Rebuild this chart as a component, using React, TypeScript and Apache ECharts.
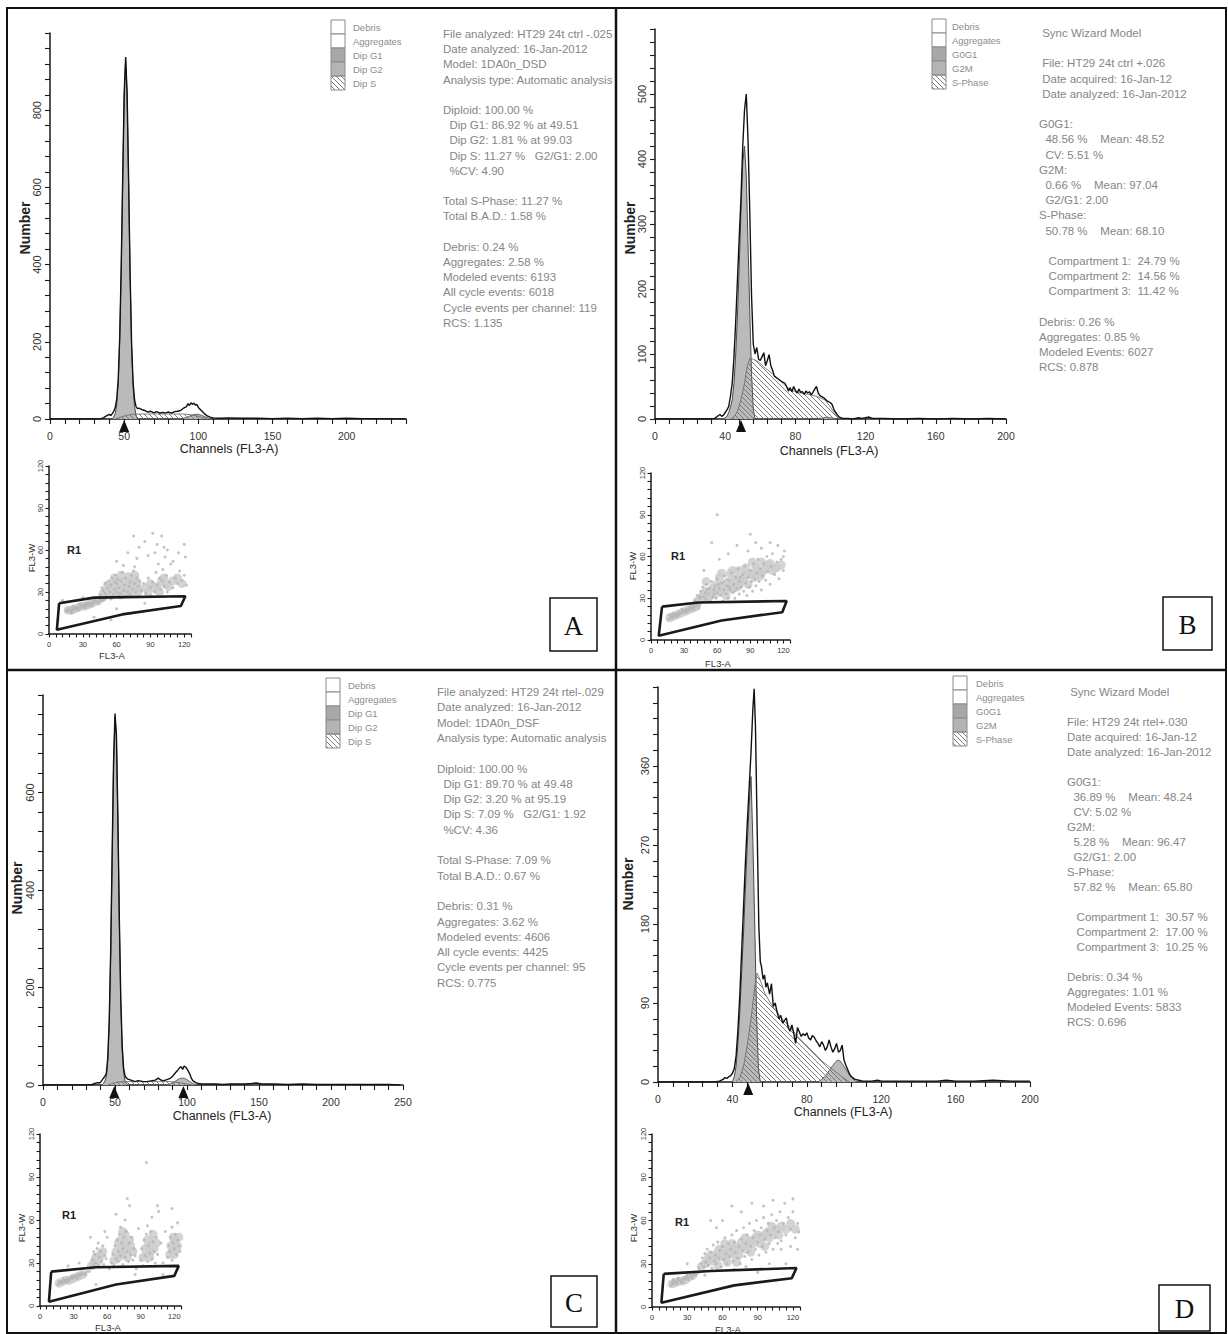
import React, { useEffect, useRef } from 'react';
import * as echarts from 'echarts';

const FONT = '"Liberation Sans", Arial, Helvetica, sans-serif';
const SERIF = '"Liberation Serif", "Times New Roman", serif';

// ---------------- Histogram data (channel, count) ----------------
const aTotal = [[0,0],[30,0],[34,1],[36,3],[38,8],[40,12],[41,9],[42,14],[43,20],[44,30],[45,52],[46,102],[47,212],[48,392],[49,622],[50,842],[51,938],[52,842],[53,618],[54,378],[55,196],[56,96],[57,50],[58,32],[59,27],[60,28],[62,24],[64,22],[66,18],[68,20],[70,16],[72,19],[74,15],[76,17],[78,16],[80,18],[82,15],[84,19],[86,20],[88,22],[90,28],[92,32],[93,40],[94,35],[95,42],[96,38],[97,41],[98,36],[99,38],[100,30],[102,22],[104,14],[106,8],[108,5],[110,3],[115,2],[120,3],[130,2],[140,2],[150,1],[160,2],[170,1],[180,2],[190,1],[200,2],[210,1],[220,1],[240,0]];
const aG1 = [[42,0],[43,5],[44,14],[45,38],[46,95],[47,205],[48,385],[49,615],[50,835],[51,932],[52,835],[53,610],[54,370],[55,185],[56,85],[57,32],[58,10],[59,0]];
const aS = [[44,0],[48,5],[52,10],[56,12],[60,13],[70,13],[80,13],[90,13],[95,11],[100,7],[104,2],[106,0]];
const aG2 = [[88,0],[92,4],[95,9],[98,12],[100,12],[102,10],[105,5],[108,1],[110,0]];
const aArrows = [50];

const bTotal = [[0,0],[30,0],[34,1],[36,5],[37,7],[38,4],[39,6],[40,10],[41,14],[42,19],[43,35],[44,55],[45,95],[46,150],[47,215],[48,280],[49,340],[50,420],[51,475],[52,500],[53,430],[54,320],[55,190],[56,115],[57,100],[58,110],[59,92],[60,90],[61,96],[62,102],[63,82],[64,90],[65,99],[66,82],[67,75],[68,66],[70,62],[72,58],[74,55],[75,50],[76,43],[77,48],[78,42],[79,50],[80,44],[81,40],[82,46],[83,41],[84,42],[85,38],[86,43],[87,40],[88,42],[89,37],[90,41],[91,46],[92,50],[93,40],[94,36],[96,33],[98,28],[100,25],[101,22],[102,14],[103,10],[104,6],[105,3],[107,1],[110,1],[113,0],[116,2],[118,1],[122,3],[124,1],[130,1],[140,0],[150,1],[160,0],[170,1],[180,0],[190,1],[200,0]];
const bG1 = [[39,0],[41,4],[42,10],[43,18],[44,30],[45,55],[46,100],[47,160],[48,235],[49,320],[50,395],[51,420],[52,375],[53,270],[54,165],[55,70],[56,15],[57,0]];
const bS = [[43,0],[45,3],[47,12],[49,30],[51,55],[52.5,80],[54,93],[56,92],[59,88],[62,80],[65,74],[68,67],[71,60],[74,52],[77,45],[81,41],[85,39],[89,37],[93,34],[97,29],[100,18],[102,10],[104,4],[106,0]];
const bG2 = [[92,0],[96,2],[98,3],[100,2],[104,0]];
const bArrows = [49];

const cTotal = [[0,0],[30,0],[34,1],[36,3],[38,5],[39,4],[40,6],[41,10],[42,14],[43,18],[44,24],[45,57],[46,133],[47,273],[48,468],[49,662],[50,762],[51,718],[52,548],[53,343],[54,178],[55,80],[56,34],[57,18],[58,14],[59,12],[60,11],[62,9],[64,7],[66,9],[68,8],[70,7],[72,7],[74,8],[76,9],[78,10],[80,14],[82,10],[84,9],[86,11],[88,13],[90,18],[92,25],[94,32],[95,36],[96,37],[97,32],[98,39],[99,37],[100,33],[101,28],[102,22],[103,14],[104,9],[106,5],[108,3],[110,2],[115,2],[120,2],[125,1],[130,2],[140,2],[145,3],[148,4],[152,2],[160,2],[170,1],[180,2],[190,1],[200,1],[210,1],[220,1],[230,1],[240,1],[248,0]];
const cG1 = [[41,0],[42,3],[43,8],[44,18],[45,50],[46,125],[47,265],[48,460],[49,655],[50,755],[51,710],[52,540],[53,335],[54,170],[55,70],[56,25],[57,8],[58,2],[59,0]];
const cS = [[45,0],[48,3],[52,6],[56,7],[60,7],[70,7],[80,7],[88,7],[92,6],[96,4],[100,2],[104,0]];
const cG2 = [[85,0],[88,2],[90,4],[92,8],[94,12],[96,14],[98,14],[100,11],[102,7],[104,3],[106,1],[108,0]];
const cArrows = [49.5, 97.5];

const dTotal = [[0,0],[30,0],[33,1],[35,3],[36,5],[37,4],[38,6],[39,7],[40,10],[41,15],[42,30],[43,60],[44,100],[45,150],[46,200],[47,250],[48,295],[49,335],[50,375],[51,425],[51.7,448],[52.4,405],[53.3,290],[54.2,178],[55,137],[55.6,132],[56.5,117],[57.3,122],[58,108],[58.8,113],[60,100],[61,112],[62,86],[63,90],[64,80],[65,72],[66,76],[67,67],[68,70],[69,73],[70,62],[71,58],[72,65],[73,55],[74,44],[75,62],[76,57],[77,52],[78,55],[79,53],[80,56],[81,50],[82,48],[83,53],[84,51],[85,47],[86,44],[87,40],[88,46],[89,42],[90,36],[91,40],[92,48],[93,40],[94,34],[95,38],[96,44],[97,34],[98,36],[99,42],[100,25],[101,19],[102,14],[103,9],[104,6],[106,3],[108,2],[110,1],[115,1],[118,2],[120,1],[130,1],[140,1],[150,1],[155,2],[160,1],[170,1],[180,2],[190,1],[200,1]];
const dG1 = [[40,0],[41,6],[42,18],[43,45],[44,80],[45,125],[46,170],[47,220],[48,270],[49,315],[50,348],[51,275],[52,180],[53,75],[54,15],[55,0]];
const dS = [[42,0],[44,5],[46,18],[48,42],[50,72],[52,108],[53.3,124],[55,116],[57.4,101],[61,88],[64.5,78],[68,69],[71.6,61],[75,52],[78.8,44],[82,37],[85.9,29],[88,24],[91.2,19],[94,14],[96.5,10],[100,4],[103,0]];
const dG2 = [[86,0],[88,3],[90,7],[92,13],[94,19],[96,24],[97,25],[98,24],[100,18],[102,11],[104,5],[106,1],[108,0]];
const dArrows = [48.5];

// ---------------- Dot plots (FL3-A, FL3-W) ----------------
const aDots = [[16,16],[18,17],[19,16],[20,18],[21,17],[22,18],[23,17],[24,19],[25,18],[26,19],[27,18],[28,20],[29,19],[30,20],[31,19],[32,21],[33,20],[34,21],[35,20],[36,22],[37,21],[38,22],[40,22],[42,23],[44,23],[46,24],[48,24],[50,25],[17,18],[20,15],[23,19],[26,17],[29,21],[32,19],[35,22],[38,20],[41,24],[44,22],[47,25],[15,17],[21,20],[27,21],[33,22],[39,23],[45,25],[52,26],[55,25],
[46,28],[48,31],[50,29],[52,33],[54,30],[55,35],[57,28],[58,32],[60,30],[60,36],[62,33],[63,29],[64,38],[66,31],[67,35],[68,40],[70,30],[71,34],[72,37],[73,42],[74,32],[75,45],[76,36],[77,30],[78,40],[79,34],[80,38],[50,36],[53,38],[56,40],[59,42],[62,27],[65,44],[69,27],[47,33],[51,27],[58,37],[61,39],[72,28],[76,48],
[82,31],[84,36],[86,29],[88,40],[90,33],[92,37],[94,30],[95,44],[96,35],[98,40],[99,32],[100,38],[101,46],[102,34],[104,42],[105,30],[107,37],[108,50],[110,33],[112,40],[114,36],[116,45],[118,38],[120,42],[122,35],[121,55],[97,50],[103,55],[91,27],
[70,58],[75,70],[80,62],[85,66],[92,72],[96,64],[100,70],[105,60],[110,52],[115,58],[120,64],[60,52],[66,49],[88,56],[94,58],[78,54],[102,62],[8,10],[12,24],[40,12],[60,18],[85,22],[100,18],[55,10],[30,26]];
const aCore = [[17,17],[20,17],[23,18],[26,19],[29,20],[32,20],[35,21],[38,22],[41,23],[44,24],[47,26],[50,28],[53,30],[56,32],[52,35],[58,29],[62,31],[66,34],[70,36],[74,38],[72,32],[78,35],[76,42],[64,28],[60,38],[68,30],[80,32],[96,34],[100,38],[98,30],[104,36],
[48,29],[51,31],[54,34],[57,36],[60,33],[63,35],[66,38],[69,33],[72,35],[75,39],[78,37],[55,28],[61,29],[67,29],[73,29],[79,30],[58,40],[64,42],[70,41],[86,33],[90,36],[93,33],[102,40],[106,34],[110,38],[114,40],[118,36],[88,30]];
const aGate = [[9,22],[40,26],[121,27],[117,20],[65,14],[7,3],[9,22]];

const bDots = [[16,15],[18,16],[19,17],[20,16],[21,18],[22,17],[23,18],[24,19],[25,18],[26,20],[27,19],[28,20],[29,21],[30,20],[31,21],[32,22],[33,21],[34,22],[35,23],[36,22],[37,23],[38,24],[40,24],[42,25],[44,25],[17,18],[20,19],[24,17],[28,22],[32,20],[36,24],[39,22],[43,23],
[40,28],[42,32],[44,30],[45,35],[46,27],[47,38],[48,31],[49,34],[50,29],[50,40],[52,33],[53,37],[54,28],[55,42],[56,31],[57,36],[58,39],[59,30],[60,34],[60,44],[62,37],[63,32],[64,41],[65,28],[66,36],[67,46],[68,33],[69,39],[70,30],[70,43],[72,36],[73,48],[74,34],[75,40],[76,30],[77,45],[78,37],[79,51],[80,33],[80,42],[82,38],[83,47],[84,35],[85,53],[86,41],[87,32],[88,45],[89,38],[90,50],[91,42],[92,35],[93,55],[94,44],[95,39],[96,48],[97,58],[98,42],[99,51],[100,36],[101,46],[102,55],[104,43],[105,60],[106,49],[108,40],[109,53],[110,62],[112,47],[114,56],[116,44],[118,58],[120,50],[121,64],[45,31],[51,36],[57,33],[61,40],[66,42],[71,38],[76,35],[81,45],
[55,70],[62,58],[70,62],[78,68],[88,64],[95,70],[100,66],[108,70],[115,68],[120,60],[48,50],[90,76],[60,90]];
const bCore = [[17,16],[20,17],[23,18],[26,19],[29,20],[32,21],[35,22],[38,23],[41,24],[45,29],[48,33],[52,30],[55,36],[58,33],[60,40],[63,35],[66,39],[68,32],[70,42],[73,37],[76,44],[78,38],[82,42],[85,46],[88,40],[90,47],[94,45],[97,50],[100,48],[104,52],[50,42],[62,45],[72,48],[86,52],[108,55],[112,52],
[42,28],[46,31],[50,35],[54,32],[57,38],[60,36],[64,38],[67,36],[70,38],[74,41],[78,44],[80,40],[84,44],[87,48],[92,48],[95,52],[99,46],[102,50],[106,54],[110,50],[114,52],[118,54],[64,48],[74,50],[80,50],[92,56],[100,56]];
const bGate = [[10,24],[43,27],[123,28],[119,20],[64,14],[7,3],[10,24]];

const cDots = [[16,15],[18,16],[19,17],[20,16],[21,17],[22,18],[23,17],[24,18],[25,19],[26,18],[27,19],[28,20],[29,19],[30,20],[31,21],[32,20],[33,21],[34,22],[35,21],[36,22],[38,22],[40,23],[42,24],[44,24],[17,17],[21,19],[25,17],[29,21],[33,19],[37,23],[41,22],
[46,27],[47,32],[48,29],[49,36],[50,30],[51,40],[52,28],[53,34],[54,38],[55,31],[56,42],[57,29],[58,35],[59,33],[48,38],[52,44],
[64,30],[65,36],[66,28],[67,42],[68,33],[69,46],[70,31],[70,38],[71,50],[72,35],[73,44],[74,29],[74,40],[75,48],[76,34],[77,52],[78,38],[79,31],[80,44],[81,36],[82,48],[83,32],[84,40],[85,35],[72,55],[76,60],
[90,32],[91,40],[92,28],[93,46],[94,35],[95,50],[96,31],[97,42],[98,37],[99,52],[100,33],[101,45],[102,38],[103,30],[104,48],[105,36],[96,56],
[114,34],[115,42],[116,38],[117,48],[118,32],[119,44],[120,40],[121,50],[122,36],[123,46],[124,42],[125,38],[118,55],[123,58],
[60,48],[62,26],[86,26],[88,54],[108,44],[110,30],[112,52],[80,70],[78,75],[68,64],[100,62],[106,66],[95,100],[105,70],[118,68],[45,48],[58,52],[25,28],[35,30],[50,15],[85,22],[110,22]];
const cCore = [[17,16],[20,17],[23,18],[26,18],[29,19],[32,20],[35,21],[38,22],[48,30],[50,34],[52,31],[54,36],[70,34],[72,40],[74,36],[76,44],[78,40],[80,46],[72,46],[76,50],[95,36],[97,42],[99,38],[100,46],[102,40],[118,38],[120,44],[122,40],[121,46],
[46,28],[49,32],[53,33],[56,38],[66,32],[68,38],[70,44],[73,36],[75,42],[78,34],[81,42],[83,38],[74,52],[92,34],[94,40],[96,46],[98,34],[101,50],[104,44],[116,36],[117,42],[119,48],[123,42],[124,48],[120,36]];
const cGate = [[10,24],[50,27],[124,28],[120,21],[68,15],[8,3],[10,24]];

const dDots = [[16,15],[17,17],[18,16],[19,18],[20,17],[21,16],[22,18],[23,19],[24,18],[25,17],[26,19],[27,20],[28,19],[29,21],[30,20],[31,19],[32,21],[33,22],[34,21],[35,22],[36,23],[37,22],[38,23],[40,24],[18,19],[22,20],[26,17],[30,22],[34,20],
[40,27],[42,30],[43,34],[44,28],[45,37],[46,31],[47,40],[48,29],[49,34],[50,38],[51,27],[52,43],[53,32],[54,36],[55,30],[56,45],[57,34],[58,39],[59,28],[60,42],[61,33],[62,48],[63,37],[64,30],[65,44],[66,35],[67,40],[68,50],[69,32],[70,45],[71,38],[72,53],[73,34],[74,42],[75,30],[76,47],[77,39],[78,55],[79,35],[80,44],[81,50],[82,38],[83,58],[84,42],[85,33],[86,48],[87,53],[88,40],[89,60],[90,45],[91,36],[92,50],[93,55],[94,42],[95,62],[96,47],[97,38],[98,53],[99,58],[100,44],[101,50],[102,64],[103,40],[104,55],[105,48],[106,60],[107,44],[108,52],[109,66],[110,46],[112,58],[114,50],[116,62],[118,54],[120,66],[122,48],[124,58],[125,52],
[60,60],[68,70],[76,66],[85,72],[95,70],[103,74],[113,72],[120,75],[55,55],[110,40],[118,42],[124,40],[30,30],[45,22],[80,28],[100,30],[90,24],[70,26],[114,30],[50,60]];
const dCore = [[17,16],[20,17],[23,18],[26,18],[29,19],[32,21],[35,22],[45,30],[48,34],[52,32],[55,37],[58,35],[60,40],[63,34],[66,38],[68,44],[70,36],[73,40],[76,45],[80,40],[84,46],[88,48],[92,44],[96,50],[100,48],[104,52],[108,50],[56,29],[64,31],[72,31],
[42,28],[47,31],[50,36],[54,34],[57,40],[61,36],[62,44],[65,40],[68,38],[71,42],[74,36],[77,42],[79,48],[82,44],[86,44],[90,50],[94,48],[98,52],[102,56],[106,54],[110,56],[114,54],[118,58],[122,54],[84,38],[96,42]];
const dGate = [[10,23],[50,25],[123,27],[119,20],[70,15],[8,3],[10,23]];

// ---------------- Texts ----------------
const legendAC = ['Debris', 'Aggregates', 'Dip G1', 'Dip G2', 'Dip S'];
const legendBD = ['Debris', 'Aggregates', 'G0G1', 'G2M', 'S-Phase'];

const textA = ['File analyzed: HT29 24t ctrl -.025','Date analyzed: 16-Jan-2012','Model: 1DA0n_DSD','Analysis type: Automatic analysis','','Diploid: 100.00 %','  Dip G1: 86.92 % at 49.51','  Dip G2: 1.81 % at 99.03','  Dip S: 11.27 %   G2/G1: 2.00','  %CV: 4.90','','Total S-Phase: 11.27 %','Total B.A.D.: 1.58 %','','Debris: 0.24 %','Aggregates: 2.58 %','Modeled events: 6193','All cycle events: 6018','Cycle events per channel: 119','RCS: 1.135'];
const textB = [' Sync Wizard Model','',' File: HT29 24t ctrl +.026',' Date acquired: 16-Jan-12',' Date analyzed: 16-Jan-2012','','G0G1:','  48.56 %    Mean: 48.52','  CV: 5.51 %','G2M:','  0.66 %    Mean: 97.04','  G2/G1: 2.00','S-Phase:','  50.78 %    Mean: 68.10','','   Compartment 1:  24.79 %','   Compartment 2:  14.56 %','   Compartment 3:  11.42 %','','Debris: 0.26 %','Aggregates: 0.85 %','Modeled Events: 6027','RCS: 0.878'];
const textC = ['File analyzed: HT29 24t rtel-.029','Date analyzed: 16-Jan-2012','Model: 1DA0n_DSF','Analysis type: Automatic analysis','','Diploid: 100.00 %','  Dip G1: 89.70 % at 49.48','  Dip G2: 3.20 % at 95.19','  Dip S: 7.09 %   G2/G1: 1.92','  %CV: 4.36','','Total S-Phase: 7.09 %','Total B.A.D.: 0.67 %','','Debris: 0.31 %','Aggregates: 3.62 %','Modeled events: 4606','All cycle events: 4425','Cycle events per channel: 95','RCS: 0.775'];
const textD = [' Sync Wizard Model','','File: HT29 24t rtel+.030','Date acquired: 16-Jan-12','Date analyzed: 16-Jan-2012','','G0G1:','  36.89 %    Mean: 48.24','  CV: 5.02 %','G2M:','  5.28 %    Mean: 96.47','  G2/G1: 2.00','S-Phase:','  57.82 %    Mean: 65.80','','   Compartment 1:  30.57 %','   Compartment 2:  17.00 %','   Compartment 3:  10.25 %','','Debris: 0.34 %','Aggregates: 1.01 %','Modeled Events: 5833','RCS: 0.696'];

const panelLetters = ['A', 'B', 'C', 'D'];

function makeHatch(): HTMLCanvasElement {
  const s = 5;
  const c = document.createElement('canvas');
  c.width = s; c.height = s;
  const g = c.getContext('2d')!;
  g.strokeStyle = '#6e6e6e';
  g.lineWidth = 0.9;
  g.beginPath();
  g.moveTo(-1, -1); g.lineTo(s + 1, s + 1);
  g.moveTo(-1, s - 1); g.lineTo(1, s + 1);
  g.moveTo(s - 1, -1); g.lineTo(s + 1, 1);
  g.stroke();
  return c;
}

const isMult = (v: number, step: number) => Math.abs(v / step - Math.round(v / step)) < 1e-6;
const fixSpaces = (s: string) => s.replace(/^ +/, (m) => '\u00a0'.repeat(m.length)).replace(/ {2,}/g, (m) => ' ' + '\u00a0'.repeat(m.length - 1));

export default function App() {
  const ref = useRef<HTMLDivElement>(null);
  useEffect(() => {
    document.body.style.margin = '0';
    const chart = echarts.init(ref.current!, null, { renderer: 'svg' });
    const hatch = { image: makeHatch(), repeat: 'repeat', imageWidth: 5, imageHeight: 5 };

    const hists = [
      { grid: { left: 50, top: 33, width: 356, height: 386 }, xMax: 240, xStep: 10, xLab: 50, yMax: 1000, yStep: 40, yLab: 200, total: aTotal, g1: aG1, g2: aG2, s: aS, arrows: aArrows },
      { grid: { left: 655, top: 29, width: 351, height: 390 }, xMax: 200, xStep: 8, xLab: 40, yMax: 600, yStep: 20, yLab: 100, total: bTotal, g1: bG1, g2: bG2, s: bS, arrows: bArrows },
      { grid: { left: 43, top: 695, width: 360, height: 390 }, xMax: 250, xStep: 10, xLab: 50, yMax: 800, yStep: 40, yLab: 200, total: cTotal, g1: cG1, g2: cG2, s: cS, arrows: cArrows },
      { grid: { left: 658, top: 687, width: 372, height: 395 }, xMax: 200, xStep: 8, xLab: 40, yMax: 450, yStep: 18, yLab: 90, total: dTotal, g1: dG1, g2: dG2, s: dS, arrows: dArrows },
    ];
    const dots = [
      { grid: { left: 49, top: 466, width: 142, height: 168 }, pts: aDots, core: aCore, gate: aGate },
      { grid: { left: 651, top: 473, width: 139, height: 167 }, pts: bDots, core: bCore, gate: bGate },
      { grid: { left: 40, top: 1134, width: 141, height: 172 }, pts: cDots, core: cCore, gate: cGate },
      { grid: { left: 652, top: 1134, width: 148, height: 173 }, pts: dDots, core: dCore, gate: dGate },
    ];

    const axisBase = (gridIndex: number, max: number, step: number, lab: number, o: any) => ({
      type: 'value', gridIndex, min: 0, max, interval: step,
      splitLine: { show: false },
      axisLine: { show: true, onZero: false, lineStyle: { color: '#1a1a1a', width: o.lw } },
      axisTick: { show: true, inside: false, length: o.tick, lineStyle: { color: '#1a1a1a', width: 1.1 } },
      axisLabel: {
        show: true, rotate: o.rotate || 0, margin: o.margin, fontSize: o.size, color: '#333', fontFamily: FONT,
        formatter: (v: number) => (isMult(v, lab) && (o.hideMax ? v < max : true) ? String(Math.round(v)) : ''),
      },
    });

    const grids: any[] = [];
    const xAxes: any[] = [];
    const yAxes: any[] = [];
    const series: any[] = [];

    hists.forEach((p, i) => {
      grids.push(p.grid);
      xAxes.push(axisBase(i, p.xMax, p.xStep, p.xLab, { lw: 1.5, tick: 5, margin: 11, size: 10.5 }));
      yAxes.push(axisBase(i, p.yMax, p.yStep, p.yLab, { lw: 1.5, tick: 5, margin: 8, size: 11, rotate: 90, hideMax: true }));
      series.push({ type: 'line', xAxisIndex: i, yAxisIndex: i, data: p.g1, symbol: 'none', lineStyle: { color: '#4a4a4a', width: 1 }, itemStyle: { color: '#b9b9b9' }, areaStyle: { color: '#bababa', opacity: 1 }, z: 2 });
      series.push({ type: 'line', xAxisIndex: i, yAxisIndex: i, data: p.g2, symbol: 'none', lineStyle: { color: '#4a4a4a', width: 0.8 }, itemStyle: { color: '#b9b9b9' }, areaStyle: { color: '#bababa', opacity: 1 }, z: 2 });
      series.push({ type: 'line', xAxisIndex: i, yAxisIndex: i, data: p.s, symbol: 'none', lineStyle: { color: '#666', width: 0.8 }, itemStyle: { color: '#888' }, areaStyle: { color: hatch, opacity: 1 }, z: 3 });
      series.push({
        type: 'line', xAxisIndex: i, yAxisIndex: i, data: p.total, symbol: 'none', lineStyle: { color: '#111', width: 1.4 }, itemStyle: { color: '#111' }, z: 4,
        markPoint: { symbol: 'triangle', symbolSize: [10, 12], symbolOffset: [0, 7], itemStyle: { color: '#111' }, label: { show: false }, data: p.arrows.map((x) => ({ coord: [x, 0] })) },
      });
    });

    dots.forEach((p, k) => {
      const i = k + 4;
      grids.push(p.grid);
      xAxes.push(axisBase(i, 126, 6, 30, { lw: 1.5, tick: 3.5, margin: 6, size: 7.5 }));
      yAxes.push(axisBase(i, 120, 6, 30, { lw: 1.5, tick: 3.5, margin: 5, size: 7.5, rotate: 90 }));
      series.push({ type: 'scatter', xAxisIndex: i, yAxisIndex: i, data: p.core, symbol: 'circle', symbolSize: 9, itemStyle: { color: '#cdcdcd', opacity: 0.85 }, z: 1 });
      series.push({ type: 'scatter', xAxisIndex: i, yAxisIndex: i, data: p.pts, symbol: 'circle', symbolSize: 3, itemStyle: { color: '#b5b5b5' }, z: 2 });
      series.push({ type: 'line', xAxisIndex: i, yAxisIndex: i, data: p.gate, symbol: 'none', lineStyle: { color: '#1a1a1a', width: 2.6 }, itemStyle: { color: '#1a1a1a' }, z: 5 });
    });

    const T = (text: string, x: number, y: number, o: any = {}) => ({
      type: 'text', x, y, rotation: o.rot || 0, silent: true, z: o.z || 10,
      style: {
        text, fill: o.color || '#222', fontSize: o.size || 12, fontFamily: o.family || FONT, fontWeight: o.weight || 'normal',
        align: o.align || 'left', textAlign: o.align || 'left', verticalAlign: 'middle', textVerticalAlign: 'middle',
      },
    });

    const g: any[] = [];
    // frame
    g.push({ type: 'rect', shape: { x: 7, y: 8, width: 1219, height: 1325 }, style: { fill: 'none', stroke: '#111', lineWidth: 2 }, z: 20 });
    g.push({ type: 'line', shape: { x1: 616, y1: 8, x2: 616, y2: 1333 }, style: { stroke: '#111', lineWidth: 2.5 }, z: 20 });
    g.push({ type: 'line', shape: { x1: 7, y1: 670, x2: 1226, y2: 670 }, style: { stroke: '#111', lineWidth: 2.5 }, z: 20 });

    // letter boxes
    const boxes = [
      { x: 550, y: 598, w: 47, h: 53 },
      { x: 1163, y: 597, w: 49, h: 53 },
      { x: 551, y: 1276, w: 46, h: 51 },
      { x: 1159, y: 1285, w: 51, h: 46 },
    ];
    boxes.forEach((b, i) => {
      g.push({ type: 'rect', shape: { x: b.x, y: b.y, width: b.w, height: b.h }, style: { fill: '#fff', stroke: '#111', lineWidth: 1.5 }, z: 20 });
      g.push(T(panelLetters[i], b.x + b.w / 2, b.y + b.h / 2 + 1, { size: 27, family: SERIF, color: '#111', align: 'center', z: 30 }));
    });

    // legends
    const legends = [
      { x: 331, y: 20, lx: 353, labels: legendAC },
      { x: 932, y: 19, lx: 952, labels: legendBD },
      { x: 326, y: 678, lx: 348, labels: legendAC },
      { x: 953, y: 676, lx: 976, labels: legendBD },
    ];
    const fills = ['#fff', '#fff', '#a8a8a8', '#b4b4b4', hatch];
    legends.forEach((L) => {
      L.labels.forEach((lab, r) => {
        g.push({ type: 'rect', shape: { x: L.x, y: L.y + r * 14, width: 14, height: 14 }, style: { fill: fills[r], stroke: '#8a8a8a', lineWidth: 1 }, z: 10 });
        g.push(T(lab, L.lx, L.y + r * 14 + 7, { size: 9.5, color: '#8c8c8c' }));
      });
    });

    // text blocks
    const blocks = [
      { x: 443, y: 34, lh: 15.2, lines: textA },
      { x: 1039, y: 33, lh: 15.2, lines: textB },
      { x: 437, y: 692, lh: 15.3, lines: textC },
      { x: 1067, y: 692, lh: 15.0, lines: textD },
    ];
    blocks.forEach((B) => {
      B.lines.forEach((ln, r) => {
        if (ln.trim().length) g.push(T(fixSpaces(ln), B.x, B.y + r * B.lh, { size: 11.5, color: '#868686' }));
      });
    });

    // axis names
    const numberPos = [[25, 228], [630, 228], [17, 888], [628, 884]];
    const chanPos = [[229, 449], [829, 451], [222, 1116], [843, 1112]];
    const fl3wPos = [[31, 558], [632, 566], [21, 1228], [633, 1228]];
    const fl3aPos = [[112, 655], [718, 663], [108, 1327], [728, 1329]];
    const r1Pos = [[74, 550], [678, 556], [69, 1215], [682, 1222]];
    for (let i = 0; i < 4; i++) {
      g.push(T('Number', numberPos[i][0], numberPos[i][1], { size: 14, weight: 'bold', rot: Math.PI / 2, align: 'center', color: '#222' }));
      g.push(T('Channels (FL3-A)', chanPos[i][0], chanPos[i][1], { size: 12.5, align: 'center', color: '#222' }));
      g.push(T('FL3-W', fl3wPos[i][0], fl3wPos[i][1], { size: 9.5, rot: Math.PI / 2, align: 'center', color: '#333' }));
      g.push(T('FL3-A', fl3aPos[i][0], fl3aPos[i][1], { size: 9.5, align: 'center', color: '#333' }));
      g.push(T('R1', r1Pos[i][0], r1Pos[i][1], { size: 11, weight: 'bold', align: 'center', color: '#222' }));
    }

    chart.setOption({
      animation: false,
      backgroundColor: '#ffffff',
      grid: grids,
      xAxis: xAxes,
      yAxis: yAxes,
      series,
      graphic: { elements: g },
    });
    return () => chart.dispose();
  }, []);
  return <div ref={ref} style={{ position: 'absolute', left: 0, top: 0, width: 1228, height: 1334, background: '#fff' }} />;
}
